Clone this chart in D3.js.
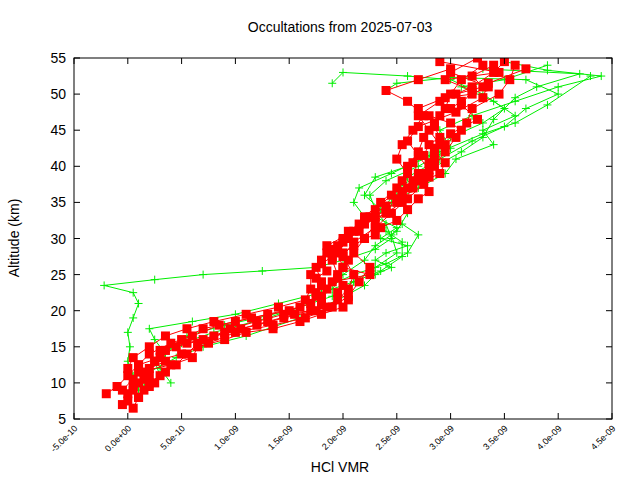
<!DOCTYPE html><html><head><meta charset="utf-8"><script src="https://d3js.org/d3.v7.min.js"></script>
<style>body{margin:0;background:#fff}text{font-family:"Liberation Sans",Arial,sans-serif}</style></head><body><svg id="c" width="640" height="480"></svg>
<script>
const xTicks=[-0.5,0,0.5,1,1.5,2,2.5,3,3.5,4,4.5];
const xTickLabels=["-5.0e-10","0.0e+00","5.0e-10","1.0e-09","1.5e-09","2.0e-09","2.5e-09","3.0e-09","3.5e-09","4.0e-09","4.5e-09"];
const yTicks=[5,10,15,20,25,30,35,40,45,50,55];
// x values in units of 1e-9, y in km
const g1=[[0.1,9],[0.05,11],[0.0,13],[0.02,15],[0.0,17],[0.05,19],[0.1,21],[0.05,22.5],[-0.22,23.5],[0.25,24.3],[0.7,25],[1.25,25.5],[1.75,26],[2.0,27],[2.3,28.5],[2.45,30],[2.4,32],[2.3,34],[2.25,36],[2.4,38],[2.7,40],[3.0,42.5],[2.9,45],[3.2,47],[3.6,49],[4.0,51],[4.4,52.5],[3.9,53.3],[3.5,54.5]];
const g2=[[0.4,10],[0.3,12],[0.35,14],[0.25,16],[0.2,17.5],[0.6,18.5],[1.0,19.5],[1.4,21],[1.8,22.5],[2.1,24],[2.3,26],[2.5,28],[2.45,30.5],[2.55,32],[2.4,34.5],[2.5,37],[2.8,39.5],[3.1,42],[3.3,44],[3.4,46.5],[3.6,49.5],[3.8,51],[4.2,52.8],[3.3,53.5]];
const g3=[[0.2,12],[0.3,14],[0.5,15.5],[0.8,17],[1.3,19],[1.7,21],[1.9,23],[2.0,25],[2.2,27],[2.3,29],[2.5,31],[2.6,33.5],[2.5,36],[2.6,38.5],[2.9,41],[3.2,43.5],[3.5,45.5],[3.7,48],[4.0,50],[3.7,52],[3.0,52.3],[2.5,51.5],[2.4,50.5]];
const g4=[[0.3,11],[0.25,13],[0.4,15],[0.55,16.5],[0.9,18],[1.5,20],[1.9,22],[2.1,24],[2.35,25.5],[2.55,27.5],[2.55,29.5],[2.4,31],[2.2,33],[2.1,35],[2.15,37],[2.45,39],[2.8,41.5],[3.0,44],[3.3,46],[3.5,48],[3.3,50],[3.0,52],[2.6,52.5],[2.0,53],[1.9,51.5]];
const g5=[[1.8,23],[2.1,25],[2.4,26.5],[2.6,28],[2.7,30.5],[2.5,32.5],[2.35,34],[2.2,36],[2.3,38.5],[2.6,40],[2.9,42],[3.3,44.5],[3.6,46],[3.9,48.5],[4.3,52.5]];
const g6=[[0.15,9.5],[0.2,11.5],[0.45,13.5],[0.7,15],[1.1,16.5],[1.6,19],[1.95,21.5],[2.2,23.5],[2.3,25],[2.45,26],[2.3,27],[2.4,28],[2.6,29],[2.35,30],[2.5,31.5],[2.3,33],[2.45,35],[2.7,37],[2.95,39],[3.05,41],[3.4,43],[3.3,45],[3.6,47],[3.4,49],[3.1,51],[3.5,52],[3.9,54]];
const r1=[[-0.05,7],[0.0,8.5],[0.1,10],[0.15,11.5],[0.25,13],[0.35,14.5],[0.5,16],[0.7,17.5],[1.0,18.5],[1.3,19.5],[1.6,20.5],[1.75,22],[1.8,24],[1.75,26],[1.85,28],[2.0,30],[2.15,32],[2.3,34],[2.45,36],[2.55,38],[2.6,40],[2.7,42],[2.75,44],[2.85,46],[2.95,48],[3.0,50],[3.1,52],[3.3,54]];
const r2=[[-0.2,8.5],[-0.1,9.5],[0.0,11],[0.1,12.5],[0.2,14],[0.4,15.5],[0.6,16.5],[0.85,18],[1.15,19],[1.5,20],[1.7,21],[1.85,23],[1.95,25],[1.9,27],[1.95,29],[2.15,31],[2.3,33],[2.5,35],[2.6,37],[2.75,39],[2.85,41],[2.9,43],[2.8,45],[2.7,47],[2.9,49],[3.2,51],[3.4,53],[3.5,54.5]];
const r3=[[0.05,6.5],[0.1,8],[0.2,9.5],[0.3,11],[0.45,12.5],[0.55,14],[0.65,15.5],[0.9,17],[1.2,18],[1.45,19],[1.75,20],[1.95,21.5],[2.05,23],[2.1,25],[2.0,27.5],[2.1,29.5],[2.3,31.5],[2.45,33.5],[2.6,35.5],[2.75,37.5],[2.8,39.5],[2.7,41.5],[2.6,43.5],[2.7,45.5],[3.05,47.5],[3.3,49.5],[3.35,51.5],[3.7,53.5]];
const r4=[[-0.05,9],[0.05,10.5],[0.0,12],[0.05,13.5],[0.2,15],[0.35,16.5],[0.55,17.5],[0.8,18.5],[1.1,19.5],[1.4,20.5],[1.65,21.5],[1.7,23],[1.7,25],[1.8,27],[1.85,29],[2.1,31],[2.2,33],[2.35,35],[2.5,37],[2.6,39],[2.5,41],[2.55,43],[2.65,45],[2.75,47],[2.6,49],[2.4,50.5],[2.7,52],[3.0,53.5]];
const r5=[[0.2,10],[0.35,11.5],[0.25,13],[0.5,14],[0.75,15.5],[1.0,17],[1.35,18],[1.65,19],[1.9,20.5],[2.05,22],[2.15,24],[2.25,26],[2.1,28],[2.2,30],[2.3,32],[2.4,34],[2.55,36],[2.7,38],[2.85,40],[2.95,42],[3.05,44],[3.15,46],[3.2,48],[3.45,50],[3.55,52],[3.6,54]];
const r6=[[0.1,8],[0.05,9.5],[0.2,11],[0.1,12.5],[0.3,13.5],[0.45,15],[0.7,16],[1.05,17.5],[1.3,18.5],[1.55,19.5],[1.85,20.5],[1.8,22],[1.9,24],[2.25,25],[2.0,26],[1.95,28],[2.05,30],[2.2,32],[2.4,33.5],[2.55,35],[2.65,37],[2.8,38.5],[2.8,40.5],[2.85,42.5],[3.0,44.5],[3.25,46.5],[3.1,48.5],[3.2,50.5],[2.95,52],[3.45,53],[2.9,54.5]];
const r7=[[0.0,7.5],[0.05,9],[0.15,10.5],[0.2,12],[0.35,13],[0.3,14.5],[0.55,15.5],[0.8,16.5],[0.95,17.5],[1.2,18.5],[1.45,19.5],[1.7,20],[1.8,20.8],[1.8,21.5],[1.75,22.5],[1.8,23.5],[1.75,24.5],[1.85,25.5],[1.8,26.5],[1.9,27.5],[1.9,28.5],[2.0,29.5],[2.05,31],[2.2,32.5],[2.25,33],[2.4,34.5],[2.5,35.5],[2.55,36.5],[2.65,38],[2.7,39],[2.65,40.5],[2.75,41.5],[2.8,43],[2.9,44],[2.85,45.5],[2.9,47],[3.0,48],[3.1,49],[3.05,50],[3.3,51],[3.2,52.5],[3.4,54]];
const r8=[[0.15,9],[0.25,10],[0.1,11.5],[0.4,12.5],[0.6,13.5],[0.65,15],[0.9,16],[1.1,17],[1.35,17.5],[1.6,18.5],[1.8,19.5],[2.0,20.5],[2.05,21.5],[1.95,22.5],[2.0,23.5],[1.95,24.5],[2.0,26],[2.05,27],[2.0,28],[2.1,29],[2.2,30],[2.3,30.5],[2.35,31.5],[2.5,32.5],[2.6,34],[2.7,35.5],[2.8,36.5],[2.75,38],[2.9,39],[2.95,40.5],[2.85,42],[2.95,43],[3.1,45],[3.0,46],[2.8,47],[2.7,48],[2.95,49.5],[3.2,50],[3.35,51],[3.0,53],[3.25,55]];
const greens=[g1,g2,g3,g4,g5,g6], reds=[r1,r2,r3,r4,r5,r6,r7,r8];

const L=74,R=612,T=58,B=419;
const svg=d3.select("#c");
const x=d3.scaleLinear().domain([-0.5,4.5]).range([L,R]);
const y=d3.scaleLinear().domain([5,55]).range([B,T]);
svg.append("defs").append("clipPath").attr("id","cp").append("rect").attr("x",L).attr("y",T).attr("width",R-L).attr("height",B-T);
const g=svg.append("g").attr("clip-path","url(#cp)");
const line=d3.line().x(d=>x(d[0])).y(d=>y(d[1]));
greens.forEach(p=>{
  g.append("path").attr("d",line(p)).attr("fill","none").attr("stroke","#00ee00").attr("stroke-width",1);
  p.forEach(d=>g.append("path").attr("d",`M${x(d[0])-4},${y(d[1])}h8M${x(d[0])},${y(d[1])-4}v8`).attr("stroke","#00ee00").attr("stroke-width",1));
});
reds.forEach(p=>{
  g.append("path").attr("d",line(p)).attr("fill","none").attr("stroke","#ff0000").attr("stroke-width",1);
  p.forEach(d=>g.append("rect").attr("x",x(d[0])-4.5).attr("y",y(d[1])-4.5).attr("width",9).attr("height",9).attr("fill","#ff0000"));
});
svg.append("rect").attr("x",L).attr("y",T).attr("width",R-L).attr("height",B-T).attr("fill","none").attr("stroke","#000");
xTicks.forEach((t,i)=>{
  svg.append("path").attr("d",`M${x(t)},${B}v-6M${x(t)},${T}v6`).attr("stroke","#000");
  svg.append("text").attr("transform",`translate(${x(t)+4},${B+10}) rotate(-45)`).attr("text-anchor","end").attr("font-size",9).text(xTickLabels[i]);
});
yTicks.forEach(t=>{
  svg.append("path").attr("d",`M${L},${y(t)}h6M${R},${y(t)}h-6`).attr("stroke","#000");
  svg.append("text").attr("x",L-8).attr("y",y(t)+5).attr("text-anchor","end").attr("font-size",14).text(t);
});
svg.append("text").attr("x",340).attr("y",32).attr("text-anchor","middle").attr("font-size",14).text("Occultations from 2025-07-03");
svg.append("text").attr("x",340).attr("y",472).attr("text-anchor","middle").attr("font-size",14).text("HCl VMR");
svg.append("text").attr("transform","translate(19,238) rotate(-90)").attr("text-anchor","middle").attr("font-size",14).text("Altitude (km)");
</script></body></html>
